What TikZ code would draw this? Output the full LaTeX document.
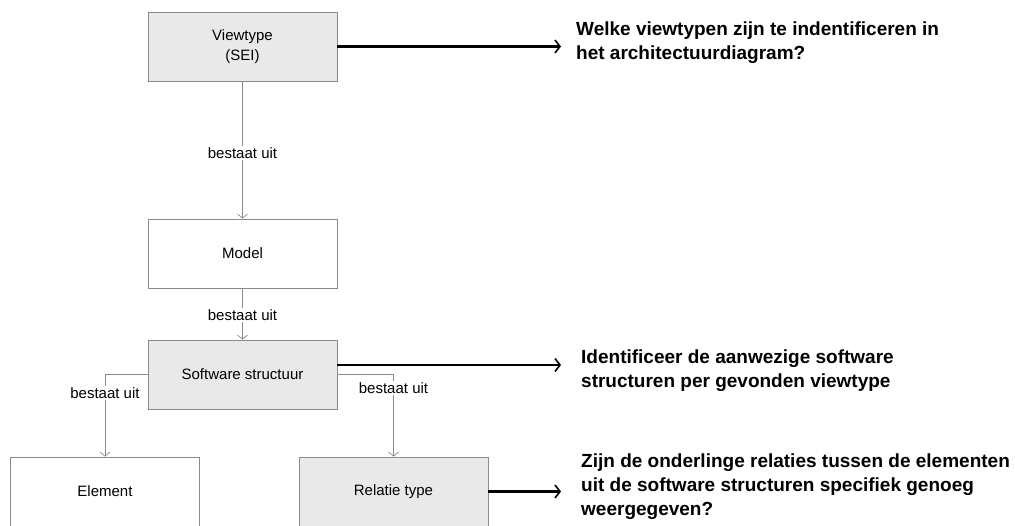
\documentclass[tikz,border=0pt]{standalone}
\usepackage{fontspec}
\setmainfont{Liberation Sans}
\usetikzlibrary{arrows.meta}
\definecolor{boxgray}{HTML}{E9E9E9}
\definecolor{edgegray}{HTML}{8A8A8A}
\begin{document}
\begin{tikzpicture}[x=1pt,y=-1pt,
  box/.style={draw=edgegray,line width=0.9pt,minimum width=189pt,minimum height=69pt,
    inner sep=0pt,font=\fontsize{15}{19.5}\selectfont,align=center},
  shaded/.style={box,fill=boxgray},
  plain/.style={box,fill=white},
  link/.style={draw=edgegray,line width=0.9pt,-{Straight Barb[length=4pt,width=10pt,line width=0.7pt]}},
  lbl/.style={fill=white,inner sep=1.5pt,font=\fontsize{15}{18}\selectfont},
  bigarrow/.style={draw=black,line width=2.2pt,-{Straight Barb[length=5pt,width=13pt,line width=1.6pt]}},
  question/.style={anchor=west,align=left,inner sep=0pt,font=\fontsize{19}{24}\selectfont\bfseries}]
\useasboundingbox (0,0) rectangle (1015,526);

% boxes
\node[shaded] (view) at (242.5,46.5) {Viewtype\\(SEI)};
\node[plain]  (model) at (242.5,253.5) {Model};
\node[shaded] (soft) at (242.5,374.5) {Software structuur};
\node[plain]  (elem) at (105,491.5) {Element};
\node[shaded] (rel) at (393.5,491.5) {Relatie type};

% questions
\node[question] (q1) at (576,42.5) {Welke viewtypen zijn te indentificeren in\\het architectuurdiagram?};
\node[question] (q2) at (581,370.5) {Identificeer de aanwezige software\\structuren per gevonden viewtype};
\node[question] (q3) at (581,486.5) {Zijn de onderlinge relaties tussen de elementen\\uit de software structuren specifiek genoeg\\weergegeven?};

% composition links
\draw[link] (view.south) -- node[lbl,pos=0.52] {bestaat uit} (model.north);
\draw[link] (model.south) -- node[lbl,pos=0.52] {bestaat uit} (soft.north);
\coordinate (lt) at (105,374);
\coordinate (rt) at (393.5,374);
\draw[link] (soft.west |- lt) -- (lt) -- node[lbl,pos=0.23] {bestaat uit} (elem.north);
\draw[link] (soft.east |- rt) -- (rt) -- node[lbl,pos=0.17] {bestaat uit} (rel.north);

% question arrows
\draw[bigarrow] (view.east) -- ([xshift=-15pt]q1.west |- view.east);
\draw[bigarrow] (soft.east |- 0,365) -- ([xshift=-20pt]q2.west |- 0,365);
\draw[bigarrow] (rel.east) -- ([xshift=-20pt]q3.west |- rel.east);
\end{tikzpicture}
\end{document}
